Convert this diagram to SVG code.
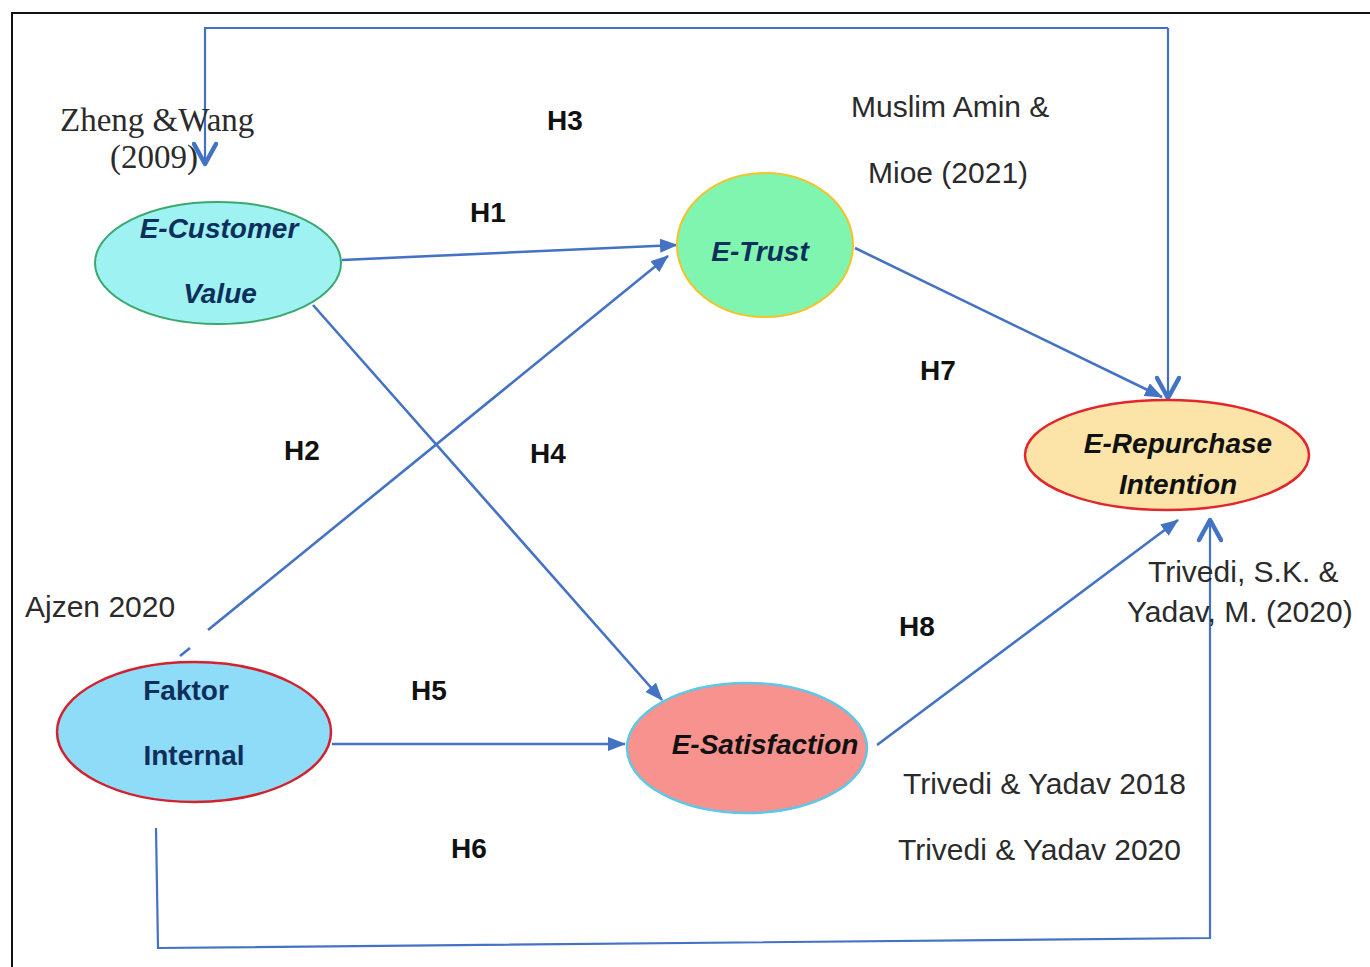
<svg xmlns="http://www.w3.org/2000/svg" width="1370" height="967" viewBox="0 0 1370 967">
<style>
.cite{font-family:"Liberation Sans",Arial,sans-serif;font-size:30px;fill:#2b2b2b}
.serif{font-family:"Liberation Serif","Times New Roman",serif;font-size:33px;fill:#2b2b2b}
.hl{font-family:"Liberation Sans",Arial,sans-serif;font-size:28px;font-weight:bold;fill:#111;text-anchor:middle}
.nt{font-family:"Liberation Sans",Arial,sans-serif;font-size:28px;font-weight:bold;text-anchor:middle}
.it{font-style:italic}
.navy{fill:#0e2f5c}
.blk{fill:#111}
.edge{fill:none;stroke:#4472c4;stroke-width:2.6}
.loop{fill:none;stroke:#4472c4;stroke-width:2.2}
</style>
<defs>
<marker id="tri2" viewBox="0 0 18 14" refX="17" refY="7" markerWidth="18" markerHeight="14" markerUnits="userSpaceOnUse" orient="auto">
<path d="M0,0 L18,7 L0,14 z" fill="#4472c4"/>
</marker>
<marker id="chev" viewBox="0 0 26 26" refX="23" refY="13" markerWidth="26" markerHeight="26" markerUnits="userSpaceOnUse" orient="auto">
<path d="M3,2 L23,13 L3,24" fill="none" stroke="#4472c4" stroke-width="4.5" stroke-linecap="round" stroke-linejoin="round"/>
</marker>
</defs>
<rect x="0" y="0" width="1370" height="967" fill="#ffffff"/>
<rect x="12" y="13" width="1400" height="1000" fill="none" stroke="#111" stroke-width="2"/>

<g id="connectors">
<path class="loop" d="M1168,28 L1168,398" marker-end="url(#chev)"/>
<path class="loop" d="M1168,28 L205,28 L205,164" marker-end="url(#chev)"/>
<path class="edge" d="M342,260 L677,245" marker-end="url(#tri2)"/>
<path class="edge" d="M208,630 L668,256" marker-end="url(#tri2)"/>
<path class="edge" d="M180,656 L190,648"/>
<path class="edge" d="M313,305 L662,700" marker-end="url(#tri2)"/>
<path class="edge" d="M332,744 L625,744" marker-end="url(#tri2)"/>
<path class="edge" d="M855,248 L1162,397" marker-end="url(#tri2)"/>
<path class="edge" d="M877,745 L1178,520" marker-end="url(#tri2)"/>
<path class="loop" d="M156,828 L158,948 L1210,938 L1210,520" marker-end="url(#chev)"/>
</g>

<g id="node-customer-value">
<ellipse cx="218" cy="263" rx="123" ry="61" fill="#9ff2f2" stroke="#3ba86e" stroke-width="2"/>
<text class="nt it navy" x="219" y="238">E-Customer</text>
<text class="nt it navy" x="220" y="303">Value</text>
</g>

<g id="node-trust">
<ellipse cx="765" cy="245" rx="88" ry="72" fill="#7ff5b0" stroke="#f2c32a" stroke-width="2"/>
<text class="nt it navy" x="760" y="261">E-Trust</text>
</g>

<g id="node-repurchase">
<ellipse cx="1167" cy="455" rx="142" ry="55" fill="#fce4a8" stroke="#e3262b" stroke-width="2.5"/>
<text class="nt it blk" x="1178" y="453">E-Repurchase</text>
<text class="nt it blk" x="1178" y="494">Intention</text>
</g>

<g id="node-faktor">
<ellipse cx="194" cy="732" rx="137" ry="70" fill="#8edcf8" stroke="#d3212d" stroke-width="2.5"/>
<text class="nt navy" x="186" y="700">Faktor</text>
<text class="nt navy" x="194" y="765">Internal</text>
</g>

<g id="node-satisfaction">
<ellipse cx="747" cy="748" rx="120" ry="65" fill="#f7928f" stroke="#5ec8e6" stroke-width="2.5"/>
<text class="nt it blk" x="765" y="754">E-Satisfaction</text>
</g>

<g id="labels">
<text class="hl" x="565" y="130">H3</text>
<text class="hl" x="488" y="222">H1</text>
<text class="hl" x="302" y="460">H2</text>
<text class="hl" x="548" y="463">H4</text>
<text class="hl" x="429" y="700">H5</text>
<text class="hl" x="469" y="858">H6</text>
<text class="hl" x="938" y="380">H7</text>
<text class="hl" x="917" y="636">H8</text>
</g>

<g id="citations">
<text class="serif" x="60" y="131">Zheng &amp;Wang</text>
<text class="serif" x="110" y="168">(2009)</text>
<text class="cite" x="851" y="117">Muslim Amin &amp;</text>
<text class="cite" x="868" y="183">Mioe (2021)</text>
<text class="cite" x="25" y="617">Ajzen 2020</text>
<text class="cite" x="1148" y="582">Trivedi, S.K. &amp;</text>
<text class="cite" x="1127" y="622">Yadav, M. (2020)</text>
<text class="cite" x="903" y="794">Trivedi &amp; Yadav 2018</text>
<text class="cite" x="898" y="860">Trivedi &amp; Yadav 2020</text>
</g>
</svg>
